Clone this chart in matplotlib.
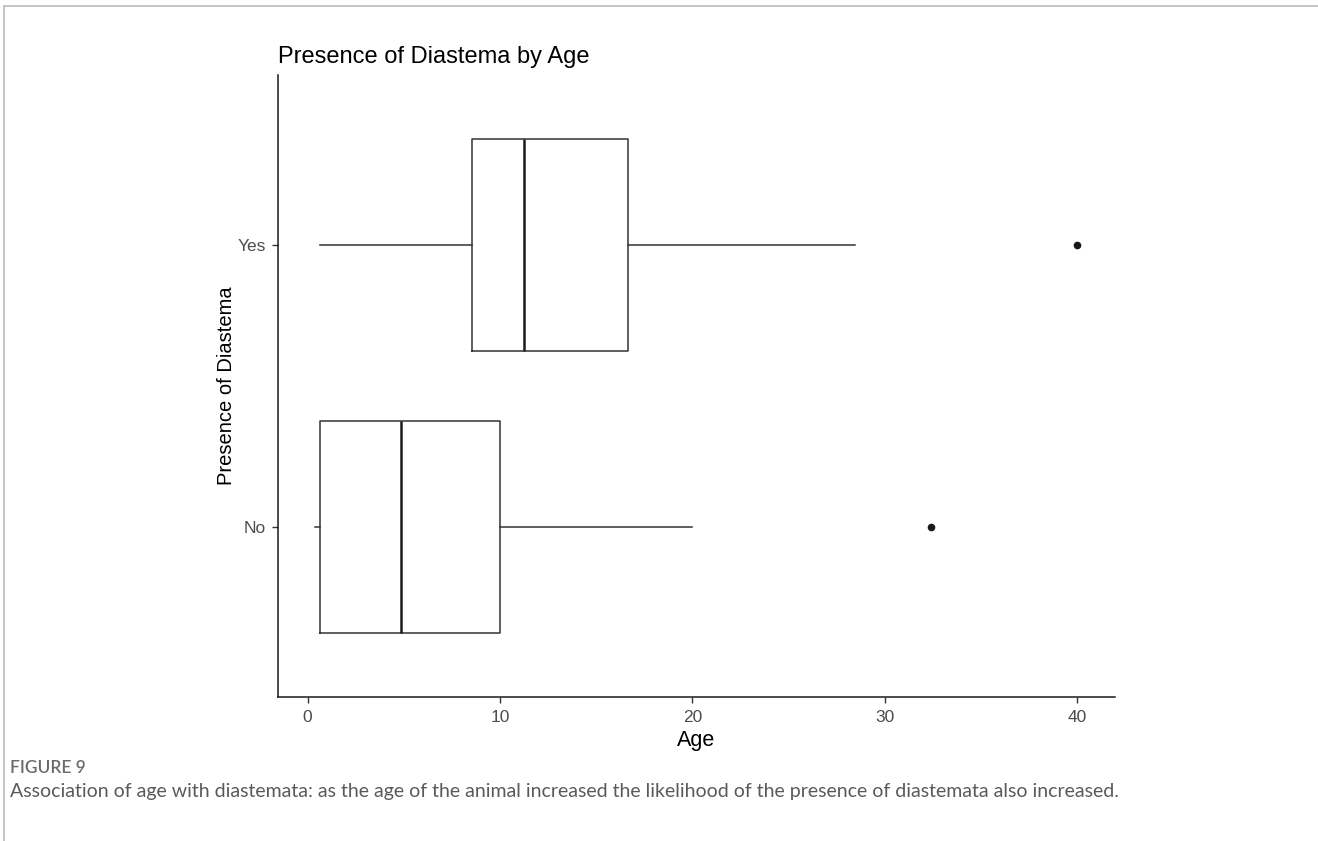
import matplotlib
matplotlib.use("Agg")
import matplotlib.pyplot as plt
from matplotlib.lines import Line2D

# Data
groups = ["No", "Yes"]
whisker_low = [0.38, 0.64]
q1 = [0.64, 8.53]
median = [4.88, 11.23]
q3 = [10.0, 16.68]
whisker_high = [20.0, 28.46]
outliers = [[32.4], [40.0]]
x_ticks = [0, 10, 20, 30, 40]

title = "Presence of Diastema by Age"
x_label = "Age"
y_label = "Presence of Diastema"
fig_label = "FIGURE 9"
caption = ("Association of age with diastemata: as the age of the animal increased "
           "the likelihood of the presence of diastemata also increased.")

plt.rcParams['font.family'] = ['Liberation Sans', 'DejaVu Sans']

fig = plt.figure(figsize=(13.18, 8.41), dpi=100)
ax = fig.add_axes([278/1318, 1-697/841, (1115-278)/1318, (697-75)/841])

stats = []
for i, g in enumerate(groups):
    stats.append(dict(label=g, whislo=whisker_low[i], q1=q1[i], med=median[i],
                      q3=q3[i], whishi=whisker_high[i], fliers=outliers[i]))

line_col = "#333333"
ax.bxp(stats, positions=[1, 2], vert=False, widths=0.75, showcaps=False,
       boxprops=dict(color=line_col, linewidth=1.1),
       whiskerprops=dict(color=line_col, linewidth=1.1),
       medianprops=dict(color="#1a1a1a", linewidth=1.8),
       flierprops=dict(marker='o', markerfacecolor="#1a1a1a", markeredgecolor="#1a1a1a",
                       markersize=4.5))

ax.set_ylim(0.4, 2.6)
ax.set_xlim(-1.54, 41.98)
ax.set_xticks(x_ticks)
ax.set_xticklabels([str(t) for t in x_ticks])
ax.set_yticks([1, 2])
ax.set_yticklabels(groups)

for s in ["top", "right"]:
    ax.spines[s].set_visible(False)
for s in ["left", "bottom"]:
    ax.spines[s].set_color("#1a1a1a")
    ax.spines[s].set_linewidth(1.1)

ax.tick_params(axis='both', colors="#333333", labelcolor="#4d4d4d", labelsize=12.5,
               length=4, width=1.0, pad=5)

ax.set_xlabel(x_label, fontsize=15.5, color="black", labelpad=4)
ax.set_ylabel(y_label, fontsize=14.5, color="black", labelpad=1)
ax.set_title(title, fontsize=17, color="black", loc="left", pad=9)

# Caption
fig.text(10/1318, 1-768/841, fig_label, fontsize=12.5, color="#6a6a6a",
         family=['Lato', 'DejaVu Sans'], fontweight='semibold', va='center')
fig.text(10/1318, 1-791/841, caption, fontsize=14, color="#5a5a5a",
         family=['Lato', 'DejaVu Sans'], va='center')

# Frame lines (page decoration)
fig.add_artist(Line2D([4/1318, 1], [1-6/841, 1-6/841], color="#bbbbbb", linewidth=1.2,
                      transform=fig.transFigure))
fig.add_artist(Line2D([4/1318, 4/1318], [0, 1-6/841], color="#bbbbbb", linewidth=1.2,
                      transform=fig.transFigure))

fig.savefig("out.png", dpi=100)
